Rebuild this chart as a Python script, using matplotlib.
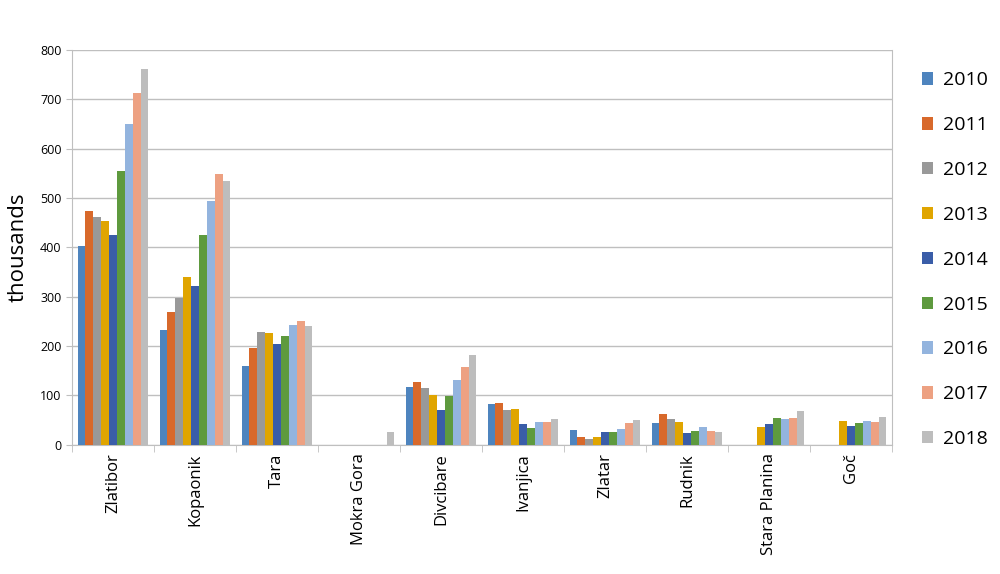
import matplotlib
matplotlib.use("Agg")
import matplotlib.pyplot as plt
import numpy as np

plt.rcParams['font.family'] = ['Open Sans', 'DejaVu Sans']

resorts = ["Zlatibor", "Kopaonik", "Tara", "Mokra Gora", "Divcibare",
           "Ivanjica", "Zlatar", "Rudnik", "Stara Planina", "Goč"]
years = ["2010", "2011", "2012", "2013", "2014", "2015", "2016", "2017", "2018"]

# thousands of tourists per resort, one list per year (0 = no bar)
v2010 = [403, 233, 160, 0, 117, 83, 30, 44, 0, 0]
v2011 = [474, 270, 197, 0, 128, 85, 15, 62, 0, 0]
v2012 = [461, 298, 228, 0, 115, 70, 12, 52, 0, 0]
v2013 = [453, 341, 226, 0, 100, 72, 15, 46, 36, 49]
v2014 = [426, 321, 205, 0, 70, 43, 26, 23, 43, 39]
v2015 = [555, 426, 220, 0, 99, 34, 26, 29, 55, 44]
v2016 = [650, 494, 242, 0, 132, 46, 32, 37, 53, 49]
v2017 = [712, 549, 250, 0, 157, 47, 45, 29, 55, 46]
v2018 = [761, 534, 240, 26, 183, 52, 50, 26, 68, 57]
series = [v2010, v2011, v2012, v2013, v2014, v2015, v2016, v2017, v2018]

colors = ['#4E84BE', '#D8692B', '#999999', '#E0A500', '#3A5DA8',
          '#5E9A3E', '#93B4DE', '#EDA182', '#BDBDBD']

fig = plt.figure(figsize=(10, 5.74), dpi=100)
ax = fig.add_axes([0.072, 0.225, 0.82, 0.688])

x = np.arange(len(resorts))
w = 0.096
for i, (vals, c, yr) in enumerate(zip(series, colors, years)):
    ax.bar(x + (i - 4) * w, vals, width=w, color=c, label=yr, zorder=3)

ax.set_xlim(-0.5, len(resorts) - 0.5)
ax.set_ylim(0, 800)
ax.set_yticks(range(0, 801, 100))
ax.yaxis.grid(True, color='#BFBFBF', linewidth=1, zorder=0)
ax.set_axisbelow(True)

ax.set_xticks(x)
ax.set_xticklabels(resorts, rotation=90, fontsize=12)
ax.set_xticks(np.arange(-0.5, len(resorts)), minor=True)
ax.tick_params(axis='x', which='major', length=0, pad=6)
ax.tick_params(axis='x', which='minor', length=5, color='#BFBFBF')
ax.tick_params(axis='y', length=4, color='#BFBFBF', labelsize=9)

for s in ['left', 'bottom', 'right']:
    ax.spines[s].set_color('#BFBFBF')
ax.spines['top'].set_visible(False)

ax.set_ylabel("thousands", fontsize=16, labelpad=8)

ax.legend(loc='upper left', bbox_to_anchor=(1.015, 0.99), frameon=False,
          fontsize=14, handlelength=0.6, handleheight=0.6,
          labelspacing=1.38, handletextpad=0.5)

fig.savefig("out.png", dpi=100)
